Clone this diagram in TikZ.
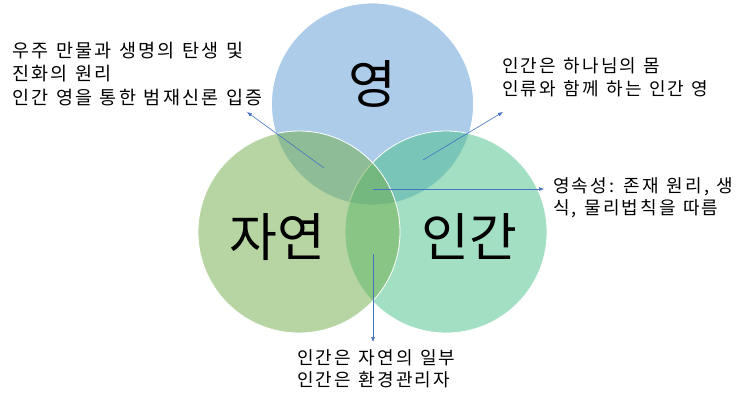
\documentclass[tikz,border=0pt]{standalone}
\usepackage{fontspec}
\setmainfont{Noto Sans CJK KR}
\newfontfamily\notefont[LetterSpace=12,WordSpace=1.2]{Noto Sans CJK KR}
\usetikzlibrary{arrows.meta}
\definecolor{cblue}{RGB}{91,155,213}
\definecolor{cgreen}{RGB}{112,173,71}
\definecolor{cteal}{RGB}{72,192,136}
\definecolor{arrowc}{RGB}{68,114,196}
\begin{document}
\begin{tikzpicture}[x=1pt,y=-1pt,
  venn/.style={circle, minimum size=202pt, inner sep=0pt, draw=white, line width=0.8pt, fill opacity=0.5, draw opacity=1},
  big/.style={font=\fontsize{52}{60}\selectfont, inner sep=0pt},
  note/.style={font=\notefont\fontsize{18}{22}\selectfont, align=left, inner sep=0pt, anchor=north west},
  bignote/.style={note, font=\notefont\fontsize{18.5}{23.5}\selectfont},
  pointer/.style={draw=arrowc, line width=0.6pt, -{Latex[length=5pt,width=4pt]}}]
\useasboundingbox (0,0) rectangle (743,404);
\fill[white] (0,0) rectangle (743,404);
% circles
\node[venn, fill=cblue] (spirit) at (372.5,104) {};
\node[venn, fill=cteal] (human) at (446,232) {};
\node[venn, fill=cgreen] (nature) at (299,232) {};
% big labels
\node[big] (lspirit) at (372.5,84) {영};
\node[big] (lnature) at (277,237) {자연};
\node[big] (lhuman) at (469,237) {인간};
% notes
\node[bignote] (t1) at (12,41.5) {우주 만물과 생명의 탄생 및\\진화의 원리\\인간 영을 통한 범재신론 입증};
\node[note, font=\notefont\fontsize{18}{23.4}\selectfont] (t2) at (502,57.5) {인간은 하나님의 몸\\인류와 함께 하는 인간 영};
\node[note] (t3) at (553,177) {영속성: 존재 원리, 생\\식, 물리법칙을 따름};
\node[note] (t4) at (297,349) {인간은 자연의 일부\\인간은 환경관리자};
% arrow ends
\coordinate (a1s) at (324,168);
\coordinate (a1e) at (247,112);
\coordinate (a2s) at (423,160);
\coordinate (a2e) at (503,112);
\coordinate (a3s) at (373,189);
\coordinate (a3e) at (544,189);
\coordinate (a4s) at (373,254);
\coordinate (a4e) at (373,342);
\draw[pointer] (a1s) -- (a1e);
\draw[pointer] (a2s) -- (a2e);
\draw[pointer] (a3s) -- (a3e);
\draw[pointer] (a4s) -- (a4e);
\end{tikzpicture}
\end{document}
